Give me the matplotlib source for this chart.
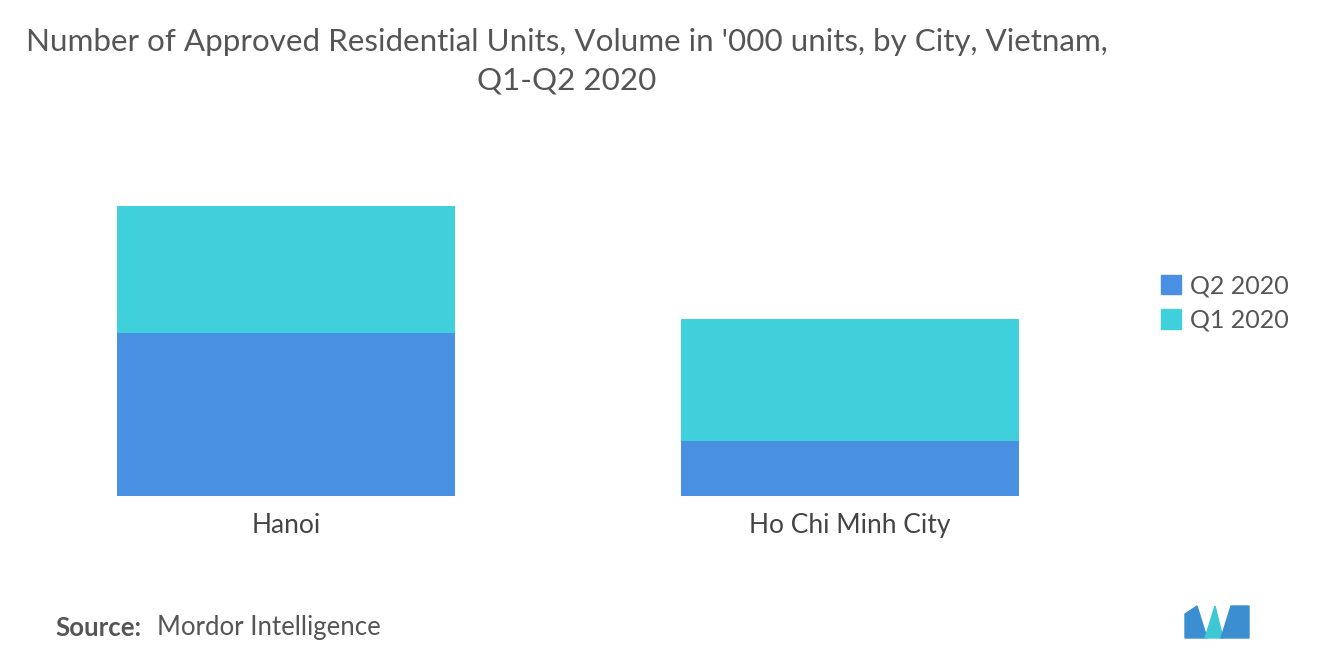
import matplotlib
matplotlib.use("Agg")
import matplotlib.pyplot as plt
from matplotlib.patches import Patch, Polygon

cities = ["Hanoi", "Ho Chi Minh City"]
q2_2020 = [8.15, 2.75]
q1_2020 = [6.35, 6.10]

plt.rcParams["font.family"] = "Lato"
fig = plt.figure(figsize=(13.2, 6.65), dpi=100)
W, H = 1320, 665
ax = fig.add_axes([4 / W, 1 - 496 / H, 1128 / W, 346 / H])
x = range(len(cities))
ax.bar(x, q2_2020, width=0.6, color="#4a90e2", label="Q2 2020")
ax.bar(x, q1_2020, width=0.6, bottom=q2_2020, color="#40d0db", label="Q1 2020")
ax.set_xlim(-0.5, 1.5)
ax.set_ylim(0, 17.3)
ax.set_xticks(list(x))
ax.set_xticklabels(cities, fontsize=19, color="#444444")
ax.tick_params(axis="x", length=0, pad=12)
ax.set_yticks([])
for s in ax.spines.values():
    s.set_visible(False)

fig.text(567 / W, 1 - 42 / H, "Number of Approved Residential Units, Volume in '000 units, by City, Vietnam,",
         ha="center", va="center", fontsize=22.6, color="#555555")
fig.text(567 / W, 1 - 80 / H, "Q1-Q2 2020", ha="center", va="center", fontsize=22.6, color="#555555")

handles = [Patch(color="#4a90e2", label="Q2 2020"), Patch(color="#40d0db", label="Q1 2020")]
fig.legend(handles=handles, loc="center left", bbox_to_anchor=(1138 / W, 1 - 303 / H),
           frameon=False, fontsize=18, labelcolor="#555555", handlelength=0.8,
           handleheight=0.8, handletextpad=0.4, labelspacing=0.45)

fig.text(55 / W, 1 - 628 / H, "Source:", fontsize=18.5, color="#555555", fontweight="bold", va="center")
fig.text(157 / W, 1 - 628 / H, "Mordor Intelligence", fontsize=18.5, color="#555555", va="center")

# logo
lx, ly = 1185, 606
def P(pts, c):
    fig.patches.append(Polygon([(px / W, 1 - py / H) for px, py in pts], closed=True,
                               transform=fig.transFigure, color=c))
P([(lx, ly + 32), (lx, ly + 8), (lx + 12, ly), (lx + 22, ly + 32)], "#3b8fd0")
P([(lx + 20, ly + 32), (lx + 30, ly), (lx + 38, ly + 32)], "#3fc8d3")
P([(lx + 36, ly + 32), (lx + 46, ly), (lx + 64, ly), (lx + 64, ly + 32)], "#3b8fd0")

fig.savefig("out.png", dpi=100)
